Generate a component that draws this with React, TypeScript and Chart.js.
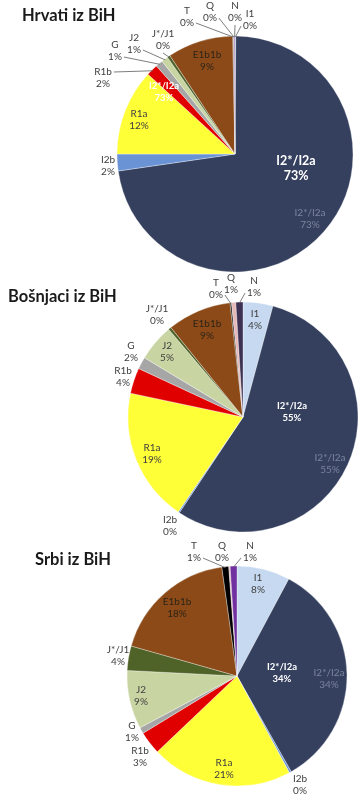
import React, { useEffect, useRef } from 'react';
import { Chart, registerables } from 'chart.js';

Chart.register(...registerables);

// ---------- data ----------
const categories = ['I1', 'I2*/I2a', 'I2b', 'R1a', 'R1b', 'G', 'J2', 'J*/J1', 'E1b1b', 'T', 'Q', 'N'];
const hrvatiValues = [0.1, 72.6, 2.3, 11.8, 1.6, 1.0, 0.9, 0.4, 9.0, 0.1, 0.1, 0.1];
const bosnjaciValues = [4.2, 55.2, 0.2, 18.8, 3.6, 1.7, 5.2, 0.4, 9.0, 0.2, 0.6, 1.0];
const srbiValues = [7.8, 34.0, 0.3, 20.8, 3.4, 0.9, 8.6, 3.6, 18.4, 1.0, 0.2, 1.0];
const titles = ['Hrvati iz BiH', 'Bošnjaci iz BiH', 'Srbi iz BiH'];

// ---------- styles ----------
const baseColors = ['#c6d9f1', '#35405f', '#6a93d6', '#ffff38', '#e00000', '#a6a6a6', '#c8d5a2', '#4f6228', '#8b4a17', '#000000', '#e6b9b8', '#7030a0'];
const hrvatiColors = baseColors;
const bosnjaciColors = baseColors.map((c, i) => (i === 11 ? '#3f3151' : c));
const srbiColors = baseColors;

type LabelStyle = { font: string; color: string; lh: number };
const STYLES: Record<string, LabelStyle> = {
  n: { font: '10px Lato', color: '#404040', lh: 12 },
  d: { font: '10px Lato', color: '#2e2418', lh: 12 },
  w: { font: 'bold 12.5px Lato', color: '#ffffff', lh: 15 },
  ws: { font: 'bold 9.5px Lato', color: '#ffffff', lh: 12 },
  g: { font: '10px Lato', color: '#7a849c', lh: 12 },
};

// label layout: [slice index, dx from pie centre, dy from pie centre, style, leader start]
type Item = [number, number, number, string, string?];
const hrvatiLabels: Item[] = [
  [1, 61, 14, 'w'],
  [1, 75, 65, 'g'],
  [1, -71, -62, 'ws'],
  [3, -96, -34, 'n'],
  [2, -127, 12, 'n'],
  [4, -132, -76, 'n', 'r1'],
  [5, -120, -103, 'n', 'r2'],
  [6, -101, -110, 'n', 'r2'],
  [7, -72, -114, 'n', 'b'],
  [9, -48, -137, 'n', 'r2'],
  [10, -25, -142, 'n', 'r2'],
  [11, 0, -142, 'n', 'b'],
  [0, 15, -134, 'n', 'l2'],
  [8, -28, -93, 'd'],
];
const bosnjaciLabels: Item[] = [
  [0, 12, -97, 'n'],
  [1, 49, -5, 'ws'],
  [1, 87, 47, 'g'],
  [2, -73, 109, 'n'],
  [3, -91, 37, 'n'],
  [4, -120, -40, 'n'],
  [5, -112, -65, 'n'],
  [6, -76, -65, 'n'],
  [7, -86, -102, 'n'],
  [8, -36, -87, 'd'],
  [9, -27, -128, 'n', 'r2'],
  [10, -12, -133, 'n'],
  [11, 11, -130, 'n', 'l2'],
];
const srbiLabels: Item[] = [
  [9, -43, -124, 'n', 'r2'],
  [10, -15, -124, 'n'],
  [11, 13, -124, 'n', 'l2'],
  [0, 21, -92, 'n'],
  [8, -60, -68, 'd'],
  [1, 45, -3, 'ws'],
  [1, 92, 3, 'g'],
  [7, -119, -20, 'n'],
  [6, -96, 20, 'n'],
  [5, -105, 56, 'n'],
  [4, -97, 81, 'n'],
  [3, -13, 93, 'n'],
  [2, 63, 109, 'n'],
];

function makeLabelPlugin(items: Item[]) {
  return {
    id: 'pieLabels',
    afterDatasetsDraw(chart: any) {
      const { ctx } = chart;
      const meta = chart.getDatasetMeta(0);
      const values = chart.data.datasets[0].data as number[];
      const labels = chart.data.labels as string[];
      ctx.save();
      for (const [i, dx, dy, styleKey, leader] of items) {
        const arc = meta.data[i];
        const p = arc.getProps(['x', 'y', 'startAngle', 'endAngle', 'outerRadius'], true);
        const st = STYLES[styleKey];
        const lx = p.x + dx;
        const ly = p.y + dy;
        const l1 = labels[i];
        const l2 = Math.round(values[i]) + '%';
        ctx.font = st.font;
        const h = st.lh;
        if (leader) {
          const mid = (p.startAngle + p.endAngle) / 2;
          const ex = p.x + Math.cos(mid) * (p.outerRadius - 1);
          const ey = p.y + Math.sin(mid) * (p.outerRadius - 1);
          const w1 = ctx.measureText(l1).width;
          const w2 = ctx.measureText(l2).width;
          let sx = lx;
          let sy = ly;
          if (leader === 'r1') { sx = lx + w1 / 2 + 2; sy = ly - h / 2; }
          else if (leader === 'r2') { sx = lx + w2 / 2 + 2; sy = ly + h / 2; }
          else if (leader === 'l2') { sx = lx - w2 / 2 - 2; sy = ly + h / 2; }
          else if (leader === 'b') { sx = lx; sy = ly + h + 1; }
          ctx.strokeStyle = '#6f6f6f';
          ctx.lineWidth = 0.9;
          ctx.beginPath();
          ctx.moveTo(sx, sy);
          ctx.lineTo(ex, ey);
          ctx.stroke();
        }
        ctx.fillStyle = st.color;
        ctx.textAlign = 'center';
        ctx.textBaseline = 'middle';
        ctx.fillText(l1, lx, ly - h / 2);
        ctx.fillText(l2, lx, ly + h / 2);
      }
      ctx.restore();
    },
  };
}

type PieProps = {
  top: number; height: number; cx: number; cy: number; radius: number;
  values: number[]; colors: string[]; items: Item[];
};

const W = 363;

function PieBox({ top, height, cx, cy, radius, values, colors, items }: PieProps) {
  const ref = useRef<HTMLCanvasElement>(null);
  useEffect(() => {
    const canvas = ref.current;
    if (!canvas) return;
    const L = Math.max(0, 2 * cx - W);
    const R = Math.max(0, W - 2 * cx);
    const T = Math.max(0, 2 * cy - height);
    const B = Math.max(0, height - 2 * cy);
    const chart = new Chart(canvas, {
      type: 'pie',
      data: {
        labels: categories,
        datasets: [{
          data: values,
          backgroundColor: colors,
          borderColor: 'rgba(255,255,255,0.55)',
          borderWidth: 0.6,
          radius,
        } as any],
      },
      options: {
        responsive: false,
        animation: false,
        events: [],
        layout: { padding: { left: L, right: R, top: T, bottom: B } },
        plugins: {
          legend: { display: false },
          tooltip: { enabled: false },
          title: { display: false },
        },
      },
      plugins: [makeLabelPlugin(items)],
    });
    return () => chart.destroy();
  }, []);
  return (
    <canvas
      ref={ref}
      width={W}
      height={height}
      style={{ position: 'absolute', left: 0, top, width: W, height }}
    />
  );
}

const titleStyle: React.CSSProperties = {
  position: 'absolute',
  font: 'bold 16.5px Lato',
  lineHeight: '20px',
  color: '#1a1a1a',
  whiteSpace: 'nowrap',
};

export default function App() {
  return (
    <div style={{ position: 'absolute', left: 0, top: 0, width: W, height: 800, background: '#ffffff', overflow: 'hidden' }}>
      <PieBox top={0} height={276} cx={235} cy={154} radius={118} values={hrvatiValues} colors={hrvatiColors} items={hrvatiLabels} />
      <PieBox top={262} height={278} cx={243} cy={155} radius={115} values={bosnjaciValues} colors={bosnjaciColors} items={bosnjaciLabels} />
      <PieBox top={534} height={266} cx={237} cy={142} radius={110} values={srbiValues} colors={srbiColors} items={srbiLabels} />
      <div style={{ ...titleStyle, left: 22, top: 4.5 }}>{titles[0]}</div>
      <div style={{ ...titleStyle, left: 8, top: 285.5 }}>{titles[1]}</div>
      <div style={{ ...titleStyle, left: 35, top: 548.5 }}>{titles[2]}</div>
    </div>
  );
}
